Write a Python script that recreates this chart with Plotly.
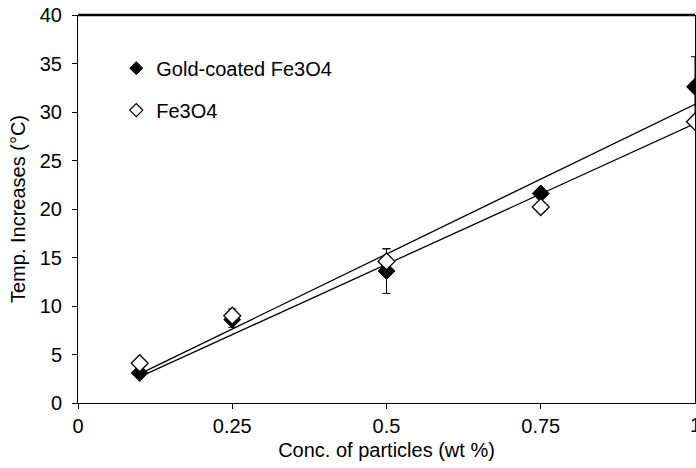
import plotly.graph_objects as go

# Concentration of particles (wt %)
conc = [0.1, 0.25, 0.5, 0.75, 1.0]

# Temperature increase (°C) and standard deviations
gold_temp = [3.1, 8.6, 13.6, 21.6, 32.6]
gold_err = [0.3, 0.8, 2.3, 0.4, 3.1]
fe_temp = [4.1, 9.0, 14.6, 20.2, 29.0]
fe_err = [0.3, 0.7, 1.3, 0.5, 0.4]

# Linear trend lines (end points)
fit_x = [0.1, 1.0]
gold_fit = [3.0, 30.8]
fe_fit = [2.7, 28.8]

x_ticks = [0, 0.25, 0.5, 0.75, 1]
x_tick_text = ["0", "0.25", "0.5", "0.75", "1"]
y_ticks = [0, 5, 10, 15, 20, 25, 30, 35, 40]

FONT = "Liberation Sans, Arial, sans-serif"
FS = 20

fig = go.Figure()

for fy in (gold_fit, fe_fit):
    fig.add_trace(go.Scatter(
        x=fit_x, y=fy, mode="lines",
        line=dict(color="black", width=1.3),
        showlegend=False, hoverinfo="skip",
    ))

fig.add_trace(go.Scatter(
    x=conc, y=gold_temp, mode="markers", name="Gold-coated Fe3O4",
    marker=dict(symbol="diamond", size=13, color="black",
                line=dict(color="black", width=1)),
    error_y=dict(type="data", array=gold_err, visible=True,
                 color="black", thickness=1, width=4),
    showlegend=False,
))

fig.add_trace(go.Scatter(
    x=conc, y=fe_temp, mode="markers", name="Fe3O4",
    marker=dict(symbol="diamond", size=13, color="white",
                line=dict(color="black", width=1.3)),
    error_y=dict(type="data", array=fe_err, visible=True,
                 color="black", thickness=1, width=4),
    showlegend=False,
))

# legend entries with smaller key symbols
fig.add_trace(go.Scatter(
    x=[None], y=[None], mode="markers", name="Gold-coated Fe3O4",
    marker=dict(symbol="diamond", size=10, color="black",
                line=dict(color="black", width=1)),
    legend="legend",
))
fig.add_trace(go.Scatter(
    x=[None], y=[None], mode="markers", name="Fe3O4",
    marker=dict(symbol="diamond", size=10, color="white",
                line=dict(color="black", width=1.2)),
    legend="legend2",
))

# heavy frame line along the top of the plot area
fig.add_shape(type="line", xref="paper", yref="paper",
              x0=0, x1=1, y0=1, y1=1,
              line=dict(color="black", width=2.5))

# end tick label at x = 1, partly past the figure edge
fig.add_annotation(x=1, y=0, xref="x", yref="paper", text="1",
                   showarrow=False, yanchor="top", yshift=-9,
                   font=dict(family=FONT, size=FS, color="black"))

legend_style = dict(
    bgcolor="rgba(0,0,0,0)", borderwidth=0,
    font=dict(family=FONT, size=FS, color="black"),
    xanchor="left", yanchor="middle", x=0.062,
)

fig.update_layout(
    width=696, height=468,
    margin=dict(l=78, r=1, t=15, b=65),
    paper_bgcolor="white", plot_bgcolor="white",
    font=dict(family=FONT, size=FS, color="black"),
    legend=dict(**legend_style, y=0.863),
    legend2=dict(**legend_style, y=0.755),
    xaxis=dict(
        range=[0, 1], tickvals=x_ticks[:-1], ticktext=x_tick_text[:-1],
        showgrid=False, zeroline=False,
        showline=True, linecolor="black", linewidth=1,
        ticks="outside", ticklen=5, tickcolor="black", tickwidth=1,
        tickfont=dict(family=FONT, size=FS),
        title=dict(text="Conc. of particles (wt %)",
                   font=dict(family=FONT, size=FS), standoff=6),
    ),
    yaxis=dict(
        range=[0, 40], tickvals=y_ticks,
        showgrid=False, zeroline=False,
        showline=True, linecolor="black", linewidth=1, mirror=True,
        ticks="outside", ticklen=5, tickcolor="black", tickwidth=1,
        ticklabelstandoff=6,
        tickfont=dict(family=FONT, size=FS),
        title=dict(text="Temp. Increases (°C)",
                   font=dict(family=FONT, size=FS), standoff=8),
    ),
)

fig.write_html("out.html")
